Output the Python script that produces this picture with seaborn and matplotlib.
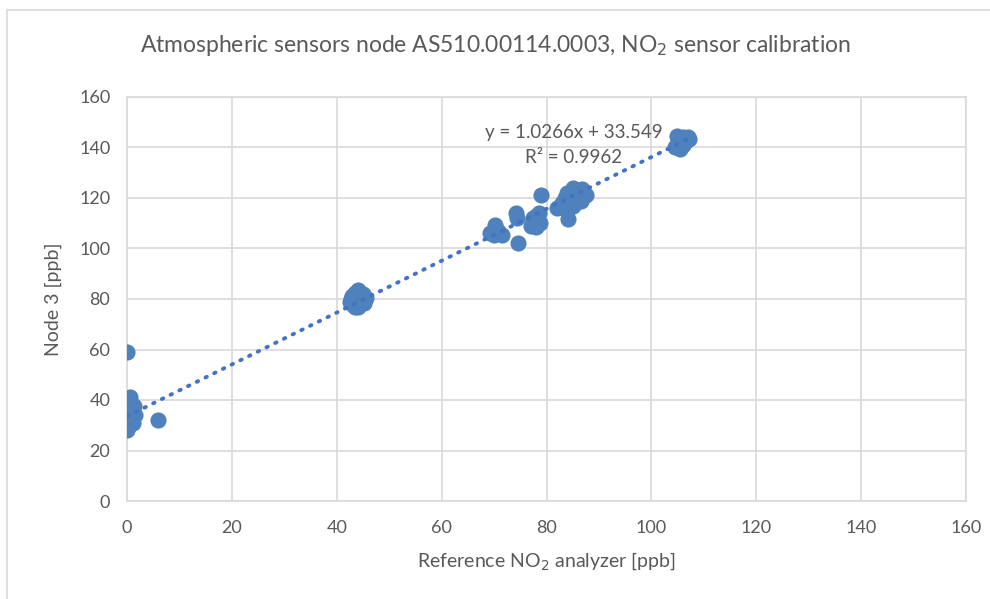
import matplotlib
matplotlib.use("Agg")
import numpy as np
import pandas as pd
import matplotlib.pyplot as plt
import seaborn as sns
from matplotlib.lines import Line2D

# Readings (reference analyser vs node 3)
ref_ppb = [
    0.0, 0.2, 0.0, 0.5, 0.3, 0.0, 0.6, 0.2, 0.0, 0.4, 0.8, 0.6, 1.0, 1.2, 0.1, 0.9, 1.1, 1.5, 1.3, 0.0, 6.0,
    42.5, 43.0, 43.5, 44.0, 44.5, 45.0, 45.5, 43.0, 44.0, 45.0, 43.5, 44.5, 45.2, 42.8, 44.0,
    69.3, 70.0, 70.2, 71.0, 71.6, 70.8, 74.6, 74.2, 74.3,
    77.0, 77.5, 78.0, 78.5, 78.7, 78.0, 77.5, 78.9,
    82.0, 83.0, 83.5, 84.0, 85.0, 86.0, 87.0, 87.5, 86.5, 85.0, 84.0, 85.5, 84.5, 86.0, 83.0, 84.1, 86.8,
    104.5, 105.0, 105.5, 105.0, 106.0, 107.0, 106.5, 105.5, 106.0, 107.2, 104.8,
]
node3_ppb = [
    28.0, 30.0, 31.0, 32.0, 33.0, 34.0, 35.0, 36.0, 37.0, 38.0, 39.0, 41.0, 33.0, 35.0, 29.5, 37.0, 31.0, 34.0, 37.5, 59.0, 32.0,
    79.0, 81.0, 77.0, 83.0, 80.0, 82.0, 80.5, 78.0, 77.0, 79.0, 82.5, 81.5, 78.5, 80.0, 83.5,
    106.0, 105.5, 109.3, 106.0, 105.5, 107.0, 102.2, 114.0, 112.0,
    109.0, 111.0, 113.0, 114.0, 110.0, 108.5, 112.0, 121.2,
    116.0, 118.0, 120.0, 122.0, 124.0, 123.0, 122.0, 121.0, 119.0, 117.0, 115.0, 120.0, 119.0, 121.0, 117.5, 111.7, 123.5,
    140.0, 141.0, 142.0, 143.0, 144.0, 144.0, 142.0, 139.5, 141.0, 143.5, 144.5,
]
slope, intercept, r2 = 1.0266, 33.549, 0.9962

ticks = list(range(0, 161, 20))

df = pd.DataFrame({"ref": ref_ppb, "node3": node3_ppb})

sns.set_theme(style="white")
plt.rcParams["font.family"] = ["Lato", "DejaVu Sans"]
text_col = "#595959"
grid_col = "#D9D9D9"
pt_col = "#4F81BD"

fig = plt.figure(figsize=(9.9, 5.99), dpi=100)
ax = fig.add_axes([127 / 990, 1 - 501 / 599, 839 / 990, 404 / 599])

sns.scatterplot(data=df, x="ref", y="node3", ax=ax, s=135, color=pt_col,
                edgecolor=pt_col, linewidth=0, zorder=3)

# linear trendline across the data range
xs = np.array([min(ref_ppb), max(ref_ppb)])
ax.plot(xs, slope * xs + intercept, color="#4472C4", lw=2.8,
        linestyle=(0, (0.4, 2.1)), dash_capstyle="round", zorder=4)

ax.text(102.2, 145.8, f"y = {slope}x + {intercept}", ha="right", va="center",
        fontsize=13.5, color=text_col)
ax.text(94.4, 136.2, f"R² = {r2}", ha="right", va="center",
        fontsize=13.5, color=text_col)

ax.set_xlim(0, 160)
ax.set_ylim(0, 160)
ax.set_xticks(ticks)
ax.set_yticks(ticks)
ax.grid(True, color=grid_col, lw=1.2)
ax.set_axisbelow(True)
for sp in ax.spines.values():
    sp.set_color(grid_col)
    sp.set_linewidth(1.2)
ax.tick_params(colors=text_col, labelsize=13, length=0)
ax.tick_params(axis="x", pad=14)
ax.tick_params(axis="y", pad=12)

ax.set_xlabel("Reference NO$_2$ analyzer [ppb]", fontsize=14, color=text_col, labelpad=10)
ax.set_ylabel("Node 3 [ppb]", fontsize=14, color=text_col, labelpad=12)
fig.text(0.5, 1 - 46 / 599, "Atmospheric sensors node AS510.00114.0003, NO$_2$ sensor calibration",
         ha="center", va="center", fontsize=16.5, color=text_col)

# chart frame (top and left edges visible)
fig.add_artist(Line2D([7 / 990, 7 / 990], [0, 1 - 10 / 599], color=grid_col, lw=1.2))
fig.add_artist(Line2D([7 / 990, 1], [1 - 10 / 599, 1 - 10 / 599], color=grid_col, lw=1.2))

fig.savefig("out.png", dpi=100)
